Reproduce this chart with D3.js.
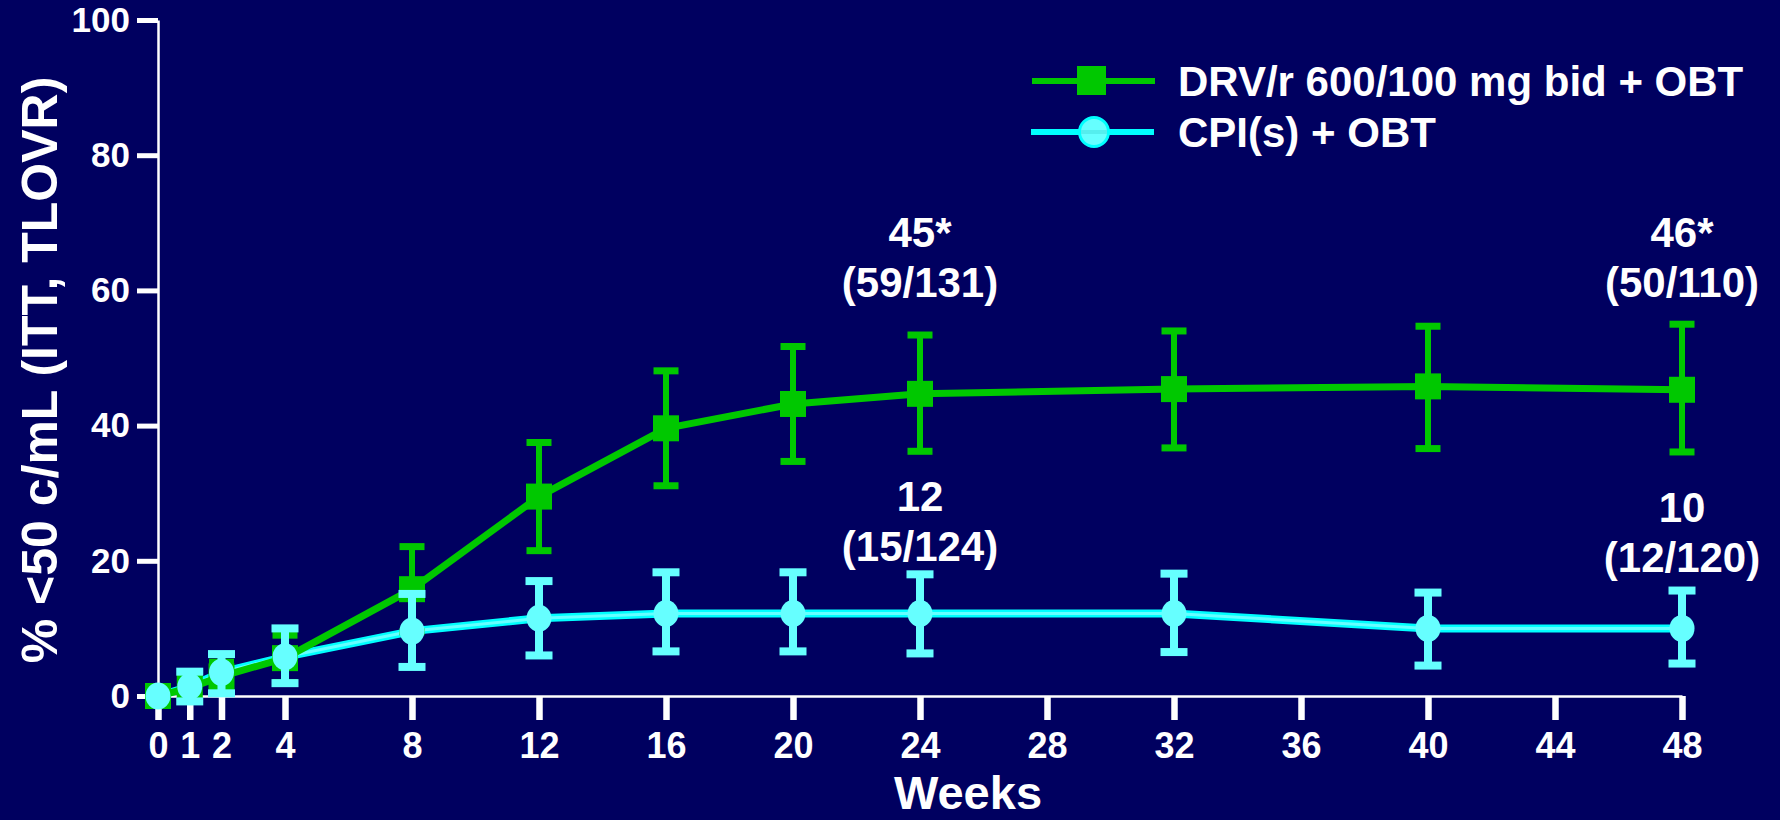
<!DOCTYPE html>
<html>
<head>
<meta charset="utf-8">
<script src="https://cdn.jsdelivr.net/npm/d3@7"></script>
<style>
    html, body { margin: 0; padding: 0; background: #000060; }
    text { font-family: "Liberation Sans", Arial, sans-serif; font-weight: bold; fill: #ffffff; }
</style>
</head>
<body>
<div id="chart"></div>
<script>

// Data

let weeks = [0, 1, 2, 4, 8, 12, 16, 20, 24, 32, 40, 48];

let drvValues = [0, 1.2, 2.9, 5.6, 15.8, 29.5, 39.6, 43.2, 44.7, 45.4, 45.8, 45.3];
let drvLow    = [0, 0, 0.5, 2.0, 9.5, 21.5, 31.1, 34.7, 36.2, 36.7, 36.6, 36.1];
let drvHigh   = [0, 2.5, 5.0, 9.0, 22.1, 37.5, 48.1, 51.7, 53.4, 54.0, 54.7, 55.0];

let cpiValues = [0, 1.4, 3.5, 5.8, 9.6, 11.5, 12.2, 12.2, 12.2, 12.2, 10.0, 10.0];
let cpiLow    = [0, -0.8, 0.4, 1.9, 4.3, 6.0, 6.6, 6.6, 6.3, 6.5, 4.5, 4.8];
let cpiHigh   = [0, 3.6, 6.2, 10.0, 15.1, 17.0, 18.3, 18.3, 18.0, 18.1, 15.3, 15.6];

let xTicks = [0, 1, 2, 4, 8, 12, 16, 20, 24, 28, 32, 36, 40, 44, 48];
let yTicks = [0, 20, 40, 60, 80, 100];

let seriesNames = ['DRV/r 600/100 mg bid + OBT', 'CPI(s) + OBT'];

let notes = [
    {week: 24, lines: ['45*', '(59/131)'], base: 247},
    {week: 48, lines: ['46*', '(50/110)'], base: 247},
    {week: 24, lines: ['12', '(15/124)'], base: 511},
    {week: 48, lines: ['10', '(12/120)'], base: 522}
];

let WIDTH = 1780,
    HEIGHT = 820,
    BG = '#000060',
    GREEN = '#00c800',
    CYAN = '#00ffff',
    CYAN_LIGHT = '#66ffff';

let svg = d3.select('#chart')
    .append('svg')
    .attr('width', WIDTH)
    .attr('height', HEIGHT);

svg.append('rect')
    .attr('width', WIDTH)
    .attr('height', HEIGHT)
    .attr('fill', BG);

let x = d3.scaleLinear().domain([0, 48]).range([158, 1682]);
let y = d3.scaleLinear().domain([0, 100]).range([696, 20]);

// Axes

let yAxis = svg.append('g')
    .attr('transform', `translate(${x(0)},0)`)
    .call(d3.axisLeft(y).tickValues(yTicks).tickSize(21).tickSizeOuter(0).tickPadding(7));

let xAxis = svg.append('g')
    .attr('transform', `translate(0,${y(0)})`)
    .call(d3.axisBottom(x).tickValues(xTicks).tickSize(24).tickSizeOuter(0));

[xAxis, yAxis].forEach(function (g) {
    g.select('.domain').attr('stroke', '#ffffff').attr('stroke-width', 2.5);
    g.selectAll('.tick text')
        .attr('fill', '#ffffff')
        .style('font-size', '35px')
        .style('font-family', '"Liberation Sans", Arial, sans-serif')
        .style('font-weight', 'bold');
});

yAxis.selectAll('.tick line').attr('stroke', '#ffffff').attr('stroke-width', 5);
xAxis.selectAll('.tick line').attr('stroke', '#ffffff').attr('stroke-width', 6.5);
xAxis.selectAll('.tick text').attr('y', 62).attr('dy', 0).style('font-size', '36px');

// Axis titles

svg.append('text')
    .attr('transform', 'translate(57,370) rotate(-90)')
    .attr('text-anchor', 'middle')
    .style('font-size', '50px')
    .text('% <50 c/mL (ITT, TLOVR)');

svg.append('text')
    .attr('x', 968)
    .attr('y', 809)
    .attr('text-anchor', 'middle')
    .style('font-size', '47px')
    .text('Weeks');

// Lines

let seriesLine = d3.line()
    .x(function (d, i) { return x(weeks[i]); })
    .y(function (d) { return y(d); });

svg.append('path')
    .datum(cpiValues)
    .attr('d', seriesLine)
    .attr('fill', 'none')
    .attr('stroke', CYAN)
    .attr('stroke-width', 8);

svg.append('path')
    .datum(cpiValues)
    .attr('d', seriesLine)
    .attr('fill', 'none')
    .attr('stroke', CYAN_LIGHT)
    .attr('stroke-width', 3);

svg.append('path')
    .datum(drvValues)
    .attr('d', seriesLine)
    .attr('fill', 'none')
    .attr('stroke', GREEN)
    .attr('stroke-width', 7);

/**
 * draw error bars (stem and two caps) for one series
 */
function errorBars(low, high, color, stem, capW, capH) {
    let g = svg.append('g');
    weeks.forEach(function (w, i) {
        if (high[i] === low[i]) return;
        g.append('rect')
            .attr('x', x(w) - stem / 2)
            .attr('y', y(high[i]))
            .attr('width', stem)
            .attr('height', y(low[i]) - y(high[i]))
            .attr('fill', color);
        [low[i], high[i]].forEach(function (v) {
            g.append('rect')
                .attr('x', x(w) - capW / 2)
                .attr('y', y(v) - capH / 2)
                .attr('width', capW)
                .attr('height', capH)
                .attr('fill', color);
        });
    });
}

errorBars(drvLow, drvHigh, GREEN, 6, 25, 7);

svg.append('g')
    .selectAll('rect')
    .data(drvValues)
    .enter()
    .append('rect')
    .attr('x', function (d, i) { return x(weeks[i]) - 13; })
    .attr('y', function (d) { return y(d) - 13; })
    .attr('width', 26)
    .attr('height', 26)
    .attr('fill', GREEN);

errorBars(cpiLow, cpiHigh, CYAN_LIGHT, 8, 27, 8);

svg.append('g')
    .selectAll('ellipse')
    .data(cpiValues)
    .enter()
    .append('ellipse')
    .attr('cx', function (d, i) { return x(weeks[i]); })
    .attr('cy', function (d) { return y(d); })
    .attr('rx', 12.5)
    .attr('ry', 13.5)
    .attr('fill', CYAN_LIGHT);

// Annotations

notes.forEach(function (n) {
    n.lines.forEach(function (t, k) {
        svg.append('text')
            .attr('x', x(n.week))
            .attr('y', n.base + k * 50)
            .attr('text-anchor', 'middle')
            .style('font-size', '42px')
            .text(t);
    });
});

// Legend

let legend = svg.append('g');

legend.append('line')
    .attr('x1', 1032).attr('x2', 1155)
    .attr('y1', 81).attr('y2', 81)
    .attr('stroke', GREEN)
    .attr('stroke-width', 6);

legend.append('rect')
    .attr('x', 1077).attr('y', 66)
    .attr('width', 29).attr('height', 29)
    .attr('fill', GREEN);

legend.append('line')
    .attr('x1', 1031).attr('x2', 1154)
    .attr('y1', 132).attr('y2', 132)
    .attr('stroke', CYAN)
    .attr('stroke-width', 6);

legend.append('circle')
    .attr('cx', 1094).attr('cy', 132)
    .attr('r', 14.5)
    .attr('fill', CYAN_LIGHT)
    .attr('stroke', CYAN)
    .attr('stroke-width', 3);

legend.append('line')
    .attr('x1', 1081).attr('x2', 1107)
    .attr('y1', 132).attr('y2', 132)
    .attr('stroke', '#55eeee')
    .attr('stroke-width', 4);

legend.selectAll('text.name')
    .data(seriesNames)
    .enter()
    .append('text')
    .attr('class', 'name')
    .attr('x', 1178)
    .attr('y', function (d, i) { return 96 + i * 51; })
    .style('font-size', '42px')
    .text(function (d) { return d; });

</script>
</body>
</html>
